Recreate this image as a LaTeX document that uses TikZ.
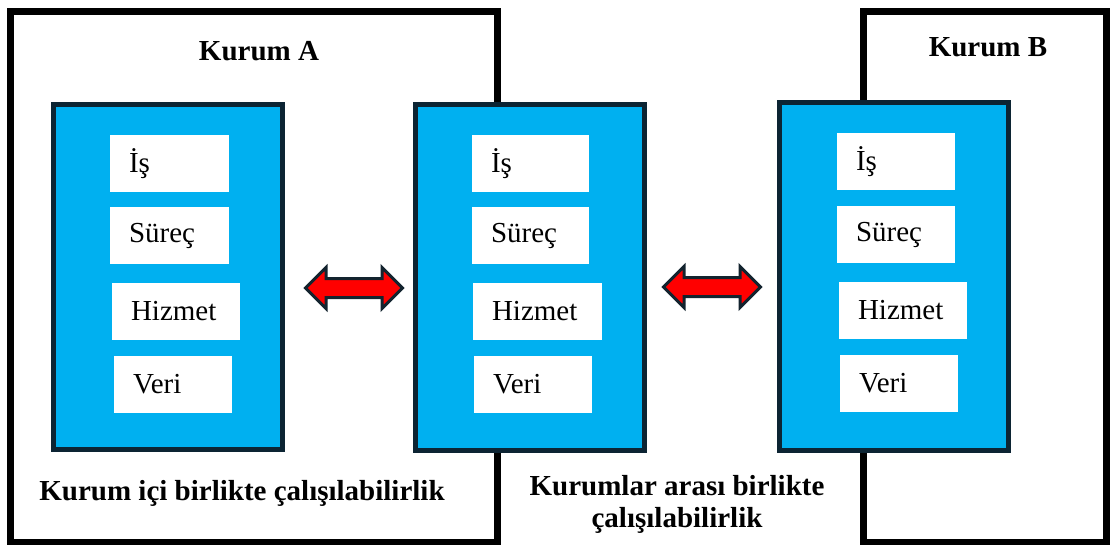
\documentclass[tikz,border=0pt]{standalone}
\usepackage{fontspec}
\setmainfont{Liberation Serif}
\usetikzlibrary{shapes.arrows}
\definecolor{panelblue}{HTML}{00B0F0}
\definecolor{paneledge}{HTML}{0C2433}
\definecolor{arrowred}{HTML}{FF0000}
\definecolor{arrowedge}{HTML}{13232E}
\begin{document}
\begin{tikzpicture}[x=1pt,y=-1pt,
  orgbox/.style={draw=black, line width=7pt, fill=white, anchor=north west,
    inner sep=0pt, outer sep=0pt},
  panel/.style={draw=paneledge, line width=5pt, fill=panelblue, anchor=north west,
    inner sep=0pt, outer sep=0pt, minimum width=229pt},
  cell/.style={fill=white, anchor=north west, inner xsep=19pt, inner ysep=0pt,
    outer sep=0pt, minimum height=57pt, align=left, text width=#1,
    font=\fontsize{29}{34}\selectfont},
  title/.style={font=\fontsize{29}{32}\selectfont\bfseries, inner sep=0pt},
  link/.style={double arrow, draw=arrowedge, line width=3pt, fill=arrowred,
    minimum height=97pt, double arrow head extend=11pt,
    inner xsep=0pt, inner ysep=8pt}]
\useasboundingbox (0,0) rectangle (1110,545);

% organisation frames
\node[orgbox, minimum width=487pt, minimum height=530pt] (kA) at (10,12) {};
\node[orgbox, minimum width=243pt, minimum height=530pt] (kB) at (863,12) {};

% layer panels
\node[panel, minimum height=345pt] (pA) at (53.5,104.5) {};
\node[panel, minimum height=346pt] (pM) at (415.5,104.5) {};
\node[panel, minimum height=347pt] (pB) at (779.5,103) {};

% layers of the left panel
\node[cell=81pt] (a1) at (110,135) {İş};
\node[cell=81pt] (a2) at (110,207) {Süreç};
\node[cell=90pt] (a3) at (112,283) {Hizmet};
\node[cell=80pt] (a4) at (114,356) {Veri};

% layers of the middle panel
\node[cell=79pt] (m1) at (472,135) {İş};
\node[cell=79pt] (m2) at (472,207) {Süreç};
\node[cell=91pt] (m3) at (473,283) {Hizmet};
\node[cell=80pt] (m4) at (474,356) {Veri};

% layers of the right panel
\node[cell=80pt] (b1) at (837,133) {İş};
\node[cell=80pt] (b2) at (837,206) {Süreç};
\node[cell=90pt] (b3) at (839,282) {Hizmet};
\node[cell=80pt] (b4) at (840,355) {Veri};

% two-way links between panels
\node[link] (lAM) at (354,288) {};
\node[link] (lMB) at (712,287) {};

% titles and captions
\node[title, anchor=base] (tA) at (259,61) {Kurum A};
\node[title, anchor=base] (tB) at (988,57) {Kurum B};
\node[title, anchor=base] (cIn) at (242,500) {Kurum içi birlikte çalışılabilirlik};
\node[title, align=center] (cOut) at (677,504) {Kurumlar arası birlikte\\çalışılabilirlik};
\end{tikzpicture}
\end{document}
